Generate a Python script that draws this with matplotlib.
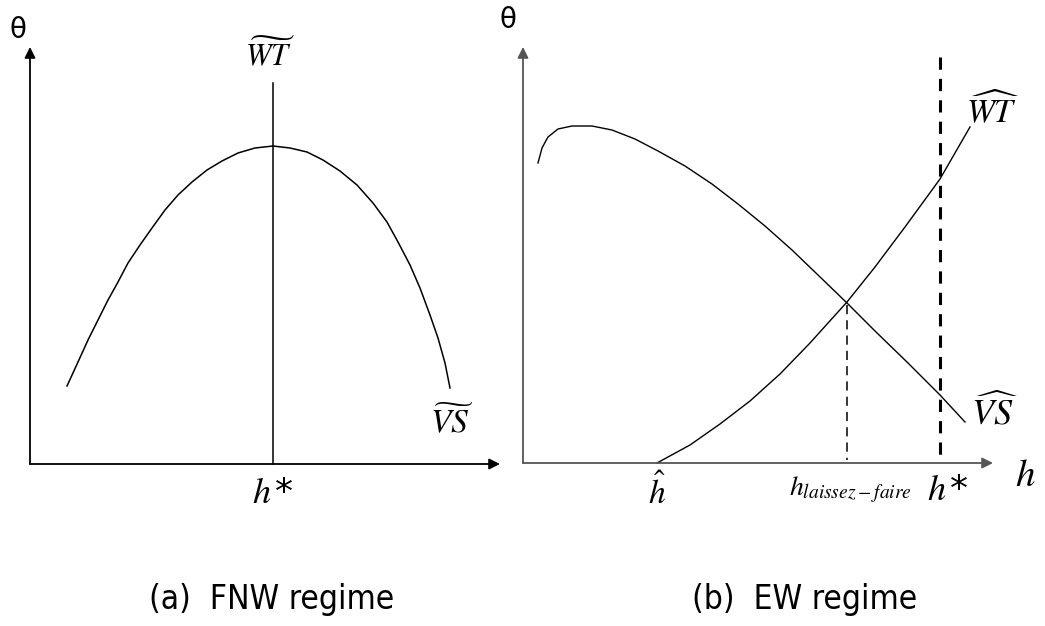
import numpy as np
import matplotlib.pyplot as plt

plt.rcParams['mathtext.fontset'] = 'stix'

# panel (a): VS curve (x in px, theta in px from top) and vertical WT line
vs_a_x = [67, 78, 88, 98, 108, 118, 128, 140, 152, 165, 178, 192, 207, 222,
          238, 255, 273, 290, 307, 323, 340, 357, 373, 387, 398, 410, 420,
          430, 438, 445, 450]
vs_a_y = [386, 362, 340, 320, 300, 282, 263, 245, 228, 210, 195, 182, 170,
          161, 153, 148, 146, 148, 152, 160, 171, 185, 203, 222, 242, 265,
          288, 315, 338, 363, 388]
h_star_a = 273

# panel (b): VS curve and WT curve
vs_b_x = [538, 542, 548, 558, 572, 592, 612, 635, 658, 685, 712, 738, 765,
          792, 818, 847, 875, 908, 940, 965]
vs_b_y = [163, 148, 137, 129, 126, 126, 130, 139, 151, 166, 184, 204, 226,
          250, 275, 303, 331, 363, 395, 422]
wt_b_x = [657, 690, 720, 750, 780, 810, 847, 875, 905, 940, 970]
wt_b_y = [463, 445, 424, 401, 374, 343, 302, 267, 227, 179, 127]
h_lf = 847
h_star_b = 940

fig = plt.figure(figsize=(10.45, 6.26), dpi=100)
ax = fig.add_axes([0, 0, 1, 1])
ax.set_xlim(0, 1045)
ax.set_ylim(626, 0)
ax.axis('off')


# axes with arrowheads
def arrow(x0, y0, x1, y1, c='black'):
    ax.annotate('', xy=(x1, y1), xytext=(x0, y0),
                arrowprops=dict(arrowstyle='-|>', color=c, lw=1.3,
                                mutation_scale=16, shrinkA=0, shrinkB=0))


arrow(30, 464, 30, 47)
arrow(30, 464, 500, 464)
arrow(523, 463, 523, 47, '#555555')
arrow(523, 463, 993, 463, '#555555')

cap = dict(fontsize=24, ha='center', va='center', family='DejaVu Sans',
           fontstretch='condensed')

# (a)
ax.plot(vs_a_x, vs_a_y, color='black', lw=1.1)
ax.plot([h_star_a, h_star_a], [83, 464], color='black', lw=1.1)
ax.text(18, 30, 'θ', fontsize=20, ha='center', va='center', family='DejaVu Sans')
ax.text(270, 55, r'$\widetilde{WT}$', fontsize=22, ha='center', va='center')
ax.text(452, 422, r'$\widetilde{VS}$', fontsize=24, ha='center', va='center')
ax.text(h_star_a, 493, r'$h\,$*', fontsize=26, ha='center', va='center')
ax.text(272, 600, '(a)  FNW regime', **cap)

# (b)
ax.plot(vs_b_x, vs_b_y, color='black', lw=1.0)
ax.plot(wt_b_x, wt_b_y, color='black', lw=1.0)
ax.plot([h_lf, h_lf], [305, 460], color='black', lw=1.1, ls=(0, (6, 4)))
ax.plot([h_star_b, h_star_b], [57, 463], color='black', lw=2.2, ls=(0, (4, 3)))
ax.text(508, 20, 'θ', fontsize=20, ha='center', va='center', family='DejaVu Sans')
ax.text(993, 110, r'$\widehat{WT}$', fontsize=24, ha='center', va='center')
ax.text(995, 412, r'$\widehat{VS}$', fontsize=26, ha='center', va='center')
ax.text(1025, 475, r'$h$', fontsize=28, ha='center', va='center')
ax.text(657, 492, r'$\hat{h}$', fontsize=24, ha='center', va='center')
ax.text(850, 490, r'$h_{laissez-faire}$', fontsize=20, ha='center', va='center')
ax.text(948, 490, r'$h\,$*', fontsize=26, ha='center', va='center')
ax.text(805, 600, '(b)  EW regime', **cap)

fig.savefig('out.png', dpi=100)
